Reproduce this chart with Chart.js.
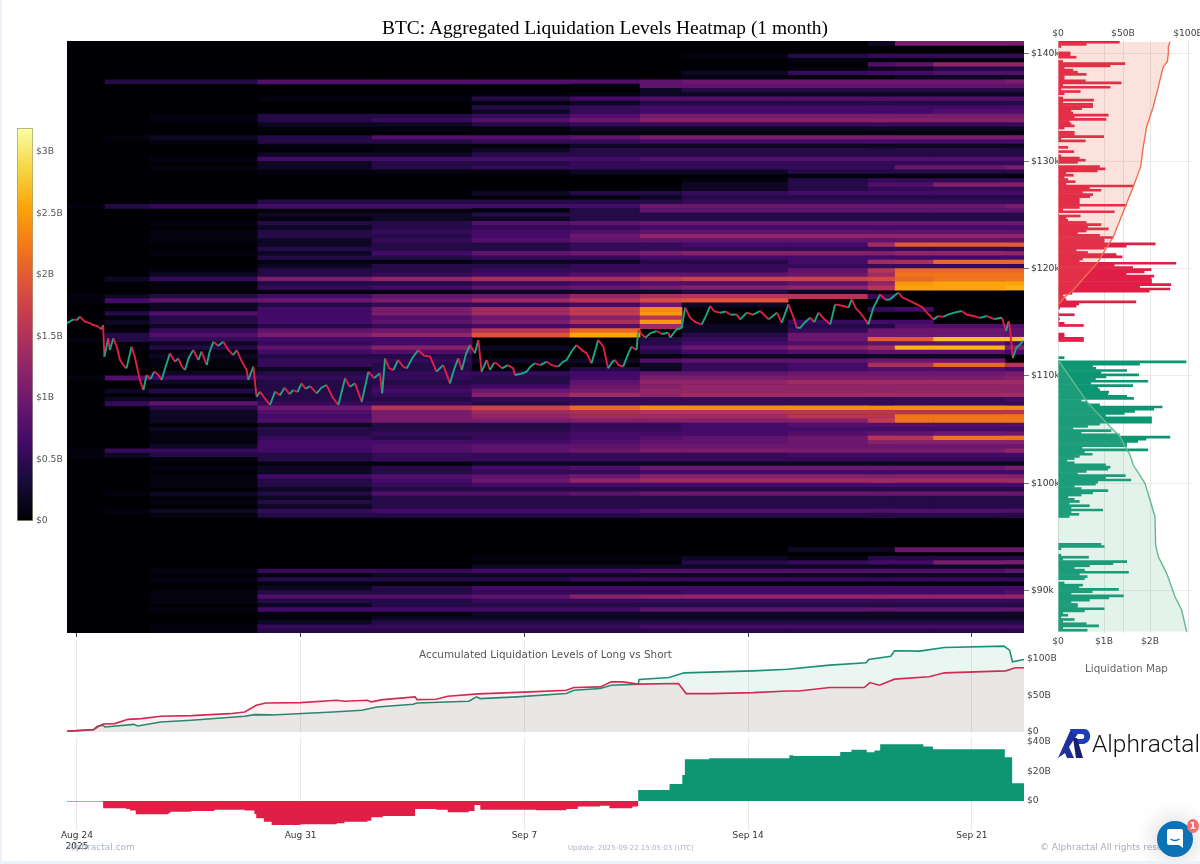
<!DOCTYPE html>
<html><head><meta charset="utf-8">
<script src="https://cdn.jsdelivr.net/npm/chart.js@4"></script>
<style>
html,body{margin:0;padding:0;background:#edf1fb;width:1200px;height:864px;overflow:hidden}
#page{position:absolute;left:2px;top:0;width:1198px;height:861px;background:#fff;overflow:hidden}
canvas{position:absolute;left:-2px;top:0;pointer-events:none}
.t{position:absolute;white-space:nowrap}
</style></head><body><div id="page">
<canvas id="cHeat" width="1200" height="864"></canvas>
<canvas id="cMap" width="1200" height="864"></canvas>
<canvas id="cBar" width="1200" height="864"></canvas>
<canvas id="cAcc" width="1200" height="864"></canvas>
<canvas id="cNet" width="1200" height="864"></canvas>
<div class="t" style="left:264px;top:17px;width:678px;text-align:center;font:19.4px 'Liberation Serif'">BTC: Aggregated Liquidation Levels Heatmap (1 month)</div>
<div class="t" style="left:417px;top:648px;font:10.4px 'DejaVu Sans';color:#555">Accumulated Liquidation Levels of Long vs Short</div>
<div class="t" style="left:1083px;top:662px;font:10.4px 'DejaVu Sans';color:#666">Liquidation Map</div>
<div class="t" style="left:65px;top:842px;font:9px 'DejaVu Sans';color:#aab4c6">Alphractal.com</div>
<div class="t" style="left:566px;top:844px;font:7px 'DejaVu Sans';color:#aab4c6">Update: 2025-09-22 15:05:03 (UTC)</div>
<div class="t" style="left:1038px;top:842px;font:9px 'DejaVu Sans';color:#a5adbb">© Alphractal All rights reserved</div>
<svg class="t" style="left:1054px;top:727px" width="38" height="33" viewBox="0 0 38 33">
<path d="M2 31 L15 2 L25 2 L13 20 L18 31 L11 31 L9 26 Z" fill="#1f2f9e"/>
<path d="M14 2 H28 C36 2 37 16 27 17 H21 L20 12 H26 C29 12 29 7 26 7 H17 Z" fill="#1c3fb8"/>
<path d="M17 11 L21 11 L27 31 L20 31 Z" fill="#16206f"/>
</svg>
<div class="t" style="left:1090px;top:729px;font:300 24.5px Roboto;color:#111">Alphractal</div>
<div class="t" style="left:1155px;top:821px;width:36px;height:36px;border-radius:50%;background:#0b72b5;box-shadow:0 0 26px rgba(0,0,0,.22)">
<svg width="36" height="36" viewBox="0 0 36 36" style="position:absolute;left:0;top:0"><path d="M10 10 Q10 8 12 8 H24 Q26 8 26 10 V27 L22 24 H12 Q10 24 10 22 Z" fill="#fff"/><path d="M13.5 18 Q18 21 22.5 18" stroke="#0b72b5" stroke-width="1.5" fill="none"/></svg></div>
<div class="t" style="left:1185px;top:819px;width:12px;height:14px;border-radius:50%;background:#f36f6f;color:#fff;font:bold 9px 'DejaVu Sans';text-align:center;line-height:14px">1</div>
</div>
<script>
/* ---------- axis values ---------- */
const dateTickDays = [0, 7, 14, 21, 28];
const dateTickLabels = [['Aug 24', '2025'], 'Aug 31', 'Sep 7', 'Sep 14', 'Sep 21'];
const priceTicks = [90000, 100000, 110000, 120000, 130000, 140000];
const priceMin = 86040, priceMax = 141210;
const dayMin = -0.31, dayMax = 29.63;

/* ---------- BTC price (days since Aug 24, USD) ---------- */
const priceDays = [-0.32,-0.2,-0.11,0,0.09,0.25,0.38,0.51,0.64,0.77,0.82,0.86,0.98,1.03,1.14,1.25,1.35,1.45,1.55,1.71,1.81,1.97,2.08,2.18,2.3,2.42,2.55,2.65,2.78,2.91,3.07,3.17,3.28,3.38,3.5,3.64,3.8,3.9,4.06,4.15,4.27,4.42,4.58,4.72,4.89,5,5.15,5.31,5.36,5.52,5.62,5.73,5.88,6.04,6.2,6.35,6.5,6.65,6.77,6.9,7.03,7.15,7.3,7.5,7.65,7.81,8,8.18,8.39,8.54,8.7,8.91,9.12,9.3,9.48,9.55,9.64,9.77,9.9,10.05,10.2,10.32,10.5,10.68,10.85,11.05,11.25,11.46,11.67,11.8,11.93,12.04,12.18,12.3,12.45,12.56,12.66,12.82,12.92,13.05,13.13,13.3,13.48,13.65,13.7,13.9,14.07,14.2,14.33,14.5,14.7,14.85,15.06,15.2,15.32,15.48,15.63,15.8,15.95,16.1,16.31,16.47,16.62,16.75,16.83,16.95,17.09,17.25,17.35,17.51,17.56,17.7,17.78,17.95,18.14,18.3,18.5,18.56,18.75,18.92,19.03,19.18,19.35,19.55,19.68,19.81,19.95,20.12,20.3,20.45,20.64,20.75,20.96,21.15,21.37,21.5,21.64,21.9,22.05,22.26,22.4,22.52,22.63,22.78,22.94,23.07,23.2,23.38,23.57,23.72,23.98,24.14,24.24,24.37,24.5,24.63,24.76,24.92,25.13,25.3,25.44,25.58,25.7,25.83,25.96,26.12,26.28,26.45,26.59,26.8,26.95,27.1,27.27,27.45,27.68,27.85,28.05,28.25,28.47,28.7,28.94,29.07,29.15,29.19,29.28,29.4,29.5,29.6];
const priceValues = [114898,115100,115271,115200,115519,115053,114950,114743,114650,114339,114743,111791,113500,112412,113500,112700,111480,111014,110703,112723,111791,109616,108684,110082,109700,110400,110082,109616,110900,112101,111325,111635,110900,110548,111700,112412,111480,112257,111014,112200,113189,112800,113189,112500,111946,112412,111400,110548,109616,110859,108063,108529,107900,107286,108529,108200,108900,108300,108684,108500,109305,108800,109050,108373,108900,109150,108000,107286,109771,108995,109305,107596,110393,109800,110238,108373,111635,110700,110548,111480,110900,110704,111700,112412,111900,111791,110393,111014,109305,110600,111636,110548,112100,112878,112102,113345,110393,111480,110548,111200,111170,110700,111000,110704,110082,110200,110393,110900,111170,111000,111325,111000,110859,111300,111480,112300,112878,112400,112102,111170,113345,112723,110704,111300,111481,111000,110859,112100,112723,112412,114277,113800,113560,114000,114181,113900,114026,113560,114300,114492,116356,115423,115000,114802,115600,116511,116000,115890,116000,115700,115735,115268,115890,115700,116045,115700,115268,115890,114957,116667,115600,114492,114492,115000,115423,115000,115890,115300,114802,116667,116511,116356,117133,116300,115890,115400,114802,116356,117599,117100,117133,117500,117754,117300,117133,116900,116667,116400,115890,115268,115579,115500,115735,115900,116045,115700,115579,115400,115579,115300,115423,114181,115112,114460,111665,112692,112900,113300];

/* ---------- heatmap: time edges (days), rows from the top, values in tenths of $1B ---------- */
const heatEdges = [-0.31,0.88,2.28,5.66,9.23,12.36,15.43,17.62,18.93,22.25,24.75,25.6,26.8,29.04,29.63];
const heatTopPrice = 141000, heatPriceStep = 400;
const heatValues = [
[0,0,0,0,0,0,0,0,0,0,2,9,9,9],
[],
[],
[0,0,0,0,0,0,0,0,1,3,4,4,4,4],
[0,0,0,0,0,0,0,0,0,1,1,1,1,1],
[0,0,0,0,0,0,0,0,0,0,6,7,11,11],
[0,0,0,0,0,0,0,0,0,1,2,2,3,3],
[0,0,0,0,0,0,0,0,2,4,5,5,6,6],
[0,0,0,0,0,0,0,0,1,1,1,2,2,2],
[0,3,3,6,6,6,6,7,8,8,8,8,8,9],
[0,0,0,0,0,0,1,7,7,7,7,7,7,7],
[0,0,0,0,0,0,0,2,3,3,3,3,3,3],
[0,0,0,0,0,1,1,2,2,2,2,2,2,2],
[0,0,0,1,1,3,5,6,6,6,6,6,6,6],
[0,0,0,0,0,1,2,3,3,3,3,3,3,3],
[0,0,0,0,0,3,4,5,5,5,5,5,5,5],
[0,0,0,0,0,2,4,5,5,5,5,5,6,6],
[0,0,1,3,3,4,6,9,9,9,9,9,9,9],
[0,0,1,3,4,6,8,10,10,10,10,10,10,10],
[0,0,0,2,2,3,4,4,4,4,4,4,4,4],
[0,0,0,1,1,1,2,2,2,2,2,2,2,2],
[0,0,0,0,0,1,1,1,1,1,1,1,1,1],
[0,1,2,3,6,6,7,9,9,9,9,9,9,9],
[0,0,1,3,3,4,4,5,5,5,5,5,5,5],
[0,0,0,1,1,1,2,2,2,2,2,2,2,2],
[0,0,0,0,1,2,3,3,3,3,3,3,3,3],
[0,0,0,2,2,3,3,3,3,3,3,3,3,3],
[0,0,1,5,5,5,5,6,6,6,6,6,6,6],
[0,0,0,2,3,3,4,4,4,4,4,4,4,4],
[0,0,1,2,3,4,4,4,4,4,4,8,8,9],
[0,0,0,1,1,1,2,2,2,3,3,3,3,3],
[0,0,0,0,0,0,0,0,0,1,1,1,1,1],
[0,0,0,0,0,0,0,0,1,3,4,4,4,4],
[0,0,0,0,0,0,0,0,2,3,6,6,10,10],
[0,0,0,0,0,0,0,1,2,3,4,4,4,4],
[0,0,0,0,0,2,3,3,4,5,5,5,5,5],
[0,0,0,0,0,0,1,2,3,3,3,3,3,3],
[0,0,1,3,3,3,3,3,4,4,4,4,4,4],
[1,3,4,5,5,5,5,8,8,8,8,8,8,9],
[0,0,0,0,0,1,3,7,7,7,7,7,7,7],
[0,0,0,2,2,3,3,3,3,3,3,3,3,3],
[0,0,0,1,2,2,3,3,3,3,3,3,3,3],
[0,0,1,3,3,6,7,8,8,8,8,8,8,8],
[0,0,0,2,3,4,4,5,5,5,5,5,5,5],
[0,0,1,3,4,5,6,7,7,7,7,7,7,7],
[0,0,1,3,3,5,8,11,11,11,11,11,11,11],
[0,0,1,2,4,6,7,7,7,7,7,7,7,7],
[0,0,0,2,3,3,4,4,5,5,12,19,19,19],
[0,0,0,3,3,3,4,4,4,4,4,4,4,4],
[0,0,1,2,5,7,8,9,10,10,10,11,11,11],
[0,0,0,3,3,4,4,5,5,5,5,5,5,5],
[0,0,0,1,1,2,2,3,3,5,12,13,20,20],
[0,0,0,2,3,3,4,4,4,4,4,4,4,4],
[0,0,1,3,3,4,4,4,4,7,14,20,20,20],
[0,0,2,3,4,5,6,7,7,8,12,21,21,21],
[0,2,4,9,11,13,13,15,16,16,17,20,21,21],
[0,0,1,3,3,4,5,6,6,7,11,24,25,25],
[0,0,1,4,5,7,8,9,10,11,14,25,25,26],
[0,0,0,1,1,2,2,2,3,2,0,0,0,0],
[1,2,3,5,7,8,11,13,14,14,4,0,0,0],
[1,5,7,8,9,12,14,17,18,0,0,0,0,0],
[0,0,2,3,4,4,5,8,2,0,0,0,0,0],
[0,1,2,5,9,12,15,23,0,0,4,5,0,0],
[0,3,6,5,9,12,15,24,0,0,0,0,0,0],
[0,1,3,5,6,8,10,14,0,0,0,0,0,0],
[0,2,3,5,7,9,13,24,1,4,5,5,0,0],
[0,0,2,3,4,5,6,12,2,3,3,6,6,6],
[0,1,4,7,8,14,20,0,2,4,8,8,8,7],
[0,3,6,9,11,18,25,0,3,8,8,8,8,7],
[1,3,4,5,5,0,0,3,4,8,19,19,27,27],
[0,0,2,4,5,0,0,3,5,6,7,7,7,5],
[0,1,3,7,10,2,0,5,8,10,12,26,26,10],
[0,0,1,5,6,0,0,3,5,6,7,7,7,5],
[0,0,2,3,3,0,0,1,2,2,2,2,2,0],
[0,0,1,4,4,2,2,6,7,7,8,8,8,0],
[0,0,1,4,3,0,0,2,4,5,13,13,20,14],
[0,0,0,2,3,1,3,2,4,5,6,6,6,5],
[0,0,2,3,4,4,5,7,7,8,8,8,8,9],
[1,6,5,4,4,3,5,9,9,9,9,9,9,10],
[0,0,2,3,3,3,7,11,11,12,12,12,12,12],
[0,0,1,3,4,5,8,10,11,11,11,11,11,11],
[0,2,3,3,5,8,9,11,11,11,11,11,11,11],
[0,0,0,3,4,10,12,11,12,12,12,12,12,12],
[0,2,2,3,3,4,4,4,4,4,4,4,4,5],
[0,4,7,4,4,3,4,4,4,4,4,4,4,4],
[0,0,3,8,14,16,20,23,23,23,23,23,23,23],
[0,0,2,6,9,12,13,14,14,14,14,14,14,14],
[0,0,2,5,9,11,12,12,12,14,14,21,21,21],
[0,0,2,6,9,9,10,10,10,10,15,21,21,21],
[0,0,0,2,3,3,4,4,5,6,6,6,6,6],
[0,0,2,3,3,3,4,4,5,5,5,5,5,5],
[0,0,1,3,4,4,5,5,5,6,7,7,8,8],
[0,0,1,4,3,4,5,6,7,8,14,14,21,21],
[0,0,1,5,5,5,6,7,7,8,10,10,10,10],
[0,0,2,5,6,7,7,8,8,8,8,8,8,8],
[1,4,4,5,6,7,8,9,9,9,9,9,9,11],
[1,2,3,3,4,4,4,4,4,5,5,5,5,5],
[0,0,1,3,4,4,4,4,4,4,4,4,4,4],
[0,0,0,1,1,2,2,2,2,2,2,2,2,2],
[0,0,1,2,3,5,6,8,8,8,8,8,8,9],
[0,0,0,2,3,4,4,5,5,5,5,5,5,5],
[0,0,1,5,6,7,8,10,10,10,10,10,10,10],
[0,0,1,3,5,8,11,12,12,12,12,12,12,12],
[0,0,1,3,4,5,5,5,5,5,5,5,5,5],
[0,0,0,2,3,3,3,3,3,3,3,3,3,3],
[0,1,2,3,6,6,7,8,8,8,8,8,8,8],
[0,0,0,2,3,3,3,3,3,3,3,3,3,3],
[0,0,1,3,3,3,3,3,3,3,3,3,3,3],
[0,0,0,2,3,3,3,3,3,3,3,3,3,3],
[0,1,2,4,5,5,5,6,6,6,6,6,6,6],
[0,0,1,3,3,3,3,3,3,3,3,3,3,3],
[],
[],
[],
[],
[],
[],
[],
[0,0,0,0,0,0,0,0,0,2,2,8,8,8],
[],
[0,0,0,0,0,1,1,1,2,1,3,3,3,3],
[0,0,0,0,0,0,0,0,3,4,5,5,9,9],
[0,0,0,0,0,2,2,2,2,2,2,2,2,2],
[0,0,1,4,4,5,5,6,6,6,6,6,6,7],
[0,0,0,1,2,2,2,2,2,2,2,2,2,2],
[0,0,1,3,3,3,4,4,4,4,4,4,4,4],
[0,0,0,1,1,1,1,1,1,1,1,1,1,1],
[0,0,0,2,3,5,5,5,5,5,5,5,5,5],
[0,0,1,3,3,4,4,4,5,5,5,5,5,6],
[0,0,1,6,6,7,10,11,11,11,11,11,11,11],
[0,0,1,3,3,4,4,4,4,4,4,4,4,4],
[0,0,0,2,3,3,3,3,3,3,3,3,3,3],
[0,0,1,5,5,5,5,7,7,7,7,7,7,7],
[0,0,0,1,1,2,2,2,2,2,2,2,2,2],
[0,0,0,1,2,2,2,2,2,2,2,2,2,2],
[0,0,0,2,3,3,3,3,3,3,3,3,3,3],
[0,0,1,4,4,4,4,5,5,5,5,5,5,5],
[0,0,1,3,3,3,3,3,3,3,3,3,3,3]
];

/* ---------- liquidation map: $200 rows from the top, $B ---------- */
const mapTopPrice = 141100, mapPriceStep = 200;
const shortBars = [1.34,.62,.07,0,0,.27,.27,.40,0,.11,1.46,1.14,.14,.33,.43,.62,.14,.14,.60,1.38,.11,1.14,.07,.49,.14,.02,.11,.78,.11,.76,.76,.52,.29,.33,1.10,.36,1.05,.25,.29,.36,.14,.02,.36,.36,1.00,.07,.60,0,0,.22,0,.35,0,.07,.47,.60,.43,.02,.91,1.03,.86,.18,.34,.14,.22,.38,.18,1.63,.69,.94,.54,.76,.70,.47,.47,.47,1.49,.47,.11,1.23,.02,.49,.18,.22,.62,.94,.65,1.10,.62,.43,.91,1.20,1.01,1.01,2.12,1.49,1.01,.40,.65,1.27,1.40,.54,.47,2.57,1.23,1.63,2.03,1.88,1.49,2.09,2.03,2.04,2.04,2.46,1.78,2.44,1.99,.31,.11,.14,.18,1.70,.46,.40,.04,0,.02,.36,.02,.04,.02,.14,.56,0,0,0,.14,.14,.56,.56];
const longBars = [0,0,0,0,0,0,0,.14,0,2.79,1.78,.76,.83,1.5,.94,1.76,1.05,.82,1.96,.72,1.63,.87,.91,1.11,1.09,1.5,1.65,.51,.65,.91,2.27,2.09,1.67,1.45,1.04,2.04,2.04,2.04,.91,.65,.33,1.16,.51,1.34,2.44,1.92,1.74,1.5,1.5,.53,1.96,.58,.75,.47,.36,.2,.36,1.04,1.14,1.09,.62,.43,1.47,1.04,1.59,.87,.82,.36,.51,1.09,.76,.51,.22,.36,.47,.25,.69,.29,.98,.29,.46,.25,0,0,0,0,0,0,0,0,0,0,0,0,.94,1.01,.07,0,0,.07,.67,.11,1.5,1.2,.69,.36,.58,1.54,.47,.64,.58,0,.14,.54,.46,1.32,.75,.29,1.43,1.11,.69,.29,.43,.43,1.01,.58,.11,.22,.07,.36,.11,.62,.89,.11,.64];
const shortCumPrice = [116600,117380,118002,120643,121730,122973,124527,126080,127634,129498,131363,133227,135091,136955,138819,139285,140062,140683,141150];
const shortCumValue = [0,5.4,11.8,31,36.2,42.6,47.7,52.8,57.9,63.6,65.6,68.2,73.3,77.2,81,84.1,84.9,84.9,86.2];
const longCumPrice = [111481,107442,105111,104335,102626,101694,99985,98431,96878,94237,93149,91596,89421,88178,86159];
const longCumValue = [0,23.3,41.3,47.7,55.4,57.9,66.9,70.8,74.6,75.1,77.2,83.6,90,95.1,99];

/* ---------- accumulated levels ($B) ---------- */
const accShortDays = [-0.35,0.52,0.64,0.82,1.18,1.6,2.02,2.62,3.58,4.78,5.25,5.61,5.91,6.99,8.13,8.37,9.09,9.21,9.57,10.58,10.64,11.24,11.6,12.56,14.36,15.31,15.55,16.37,16.72,17.08,17.56,18.82,19.06,19.84,21.15,22.23,22.59,23.55,24.63,24.81,25.11,25.58,26.66,27.14,29.06,29.36,29.63];
const accShortValues = [0.9,3.2,6.8,10.9,11.4,17.2,18.2,21.3,22.2,24.9,27.2,36.3,39.5,39.9,43.1,41.8,43.1,40.9,44,47.7,44,44.5,48.6,51.8,54.9,56.8,60.4,61.3,68.1,68.1,65,65.8,52.2,52.2,53.5,55.8,55.8,60.4,60.4,67.2,63.6,71.8,75,80.4,83.1,87.2,87.2];
const accLongDays = [-0.35,0.52,0.64,0.82,0.88,1.78,1.9,2.62,3.58,5.25,5.55,6.09,8.01,8.91,9.39,10.52,10.64,12.26,12.5,12.62,13.76,15.31,15.55,16.37,16.72,17.56,17.59,18.52,19.0,21.15,22.23,23.55,24.69,24.77,25.46,25.58,26.36,27.14,29.0,29.18,29.27,29.63];
const accLongValues = [0.9,3.2,7.7,9.1,6.8,10.4,8.2,13.6,15.9,21.3,23.6,23.2,27.2,29.5,34,37.7,39.5,41.8,47.7,45.4,47.7,52.2,56.8,59,63.6,65,71.4,74.1,80.4,83.1,85.3,90.8,94,98.5,103,110.3,109.9,114.9,116.7,111.2,95.3,98.5];

/* ---------- long minus short ($B) ---------- */
const netDays = [-0.31,0.8,0.82,1.54,1.66,1.84,2.86,2.92,3.58,4.3,5.25,5.55,5.61,5.85,6.09,6.99,8.13,8.37,9.09,9.21,9.57,10.58,11.24,11.6,12.26,12.44,12.62,14.36,15.31,15.67,16.37,16.66,17.38,17.56,18.54,18.94,19.02,19.78,22.29,22.41,23.88,24.23,24.71,24.95,25.13,26.48,26.78,29.03,29.26,29.63];
const netValues = [-0.4,-0.5,-5,-5.4,-6.5,-9,-8.3,-7.2,-6.8,-6,-6.5,-8.8,-11.7,-14,-16.2,-15.8,-15,-14,-13.3,-11,-10.1,-5.4,-6,-7.7,-6.8,-2.7,-6,-6.3,-5.4,-3.8,-3.2,-5,-3.8,7.4,11.5,17.6,28.2,28.8,30.9,30.4,33,34.5,32.9,34,38.3,36.7,34.9,29.5,11.9,11.9];

/* ---------- colour bar ticks ---------- */
const colorTicks = [0, 0.5, 1, 1.5, 2, 2.5, 3];
const colorMax = 3.195;

/* ---------- style helpers ---------- */
const infernoStops = ['#000004','#160b39','#420a68','#6a176e','#932667','#bc3754','#dd513a','#f37819','#fca50a','#f6d746','#fcffa4'];
const hex = h => [1,3,5].map(i => parseInt(h.slice(i, i+2), 16));
function inferno(f){
  const t = Math.max(0, Math.min(1, f)) * 10, i = Math.min(9, Math.floor(t));
  const a = hex(infernoStops[i]), b = hex(infernoStops[i+1]);
  return 'rgb(' + a.map((v,k) => Math.round(v + (b[k]-v)*(t-i))).join(',') + ')';
}
/* colour calibration of the hand-read heat levels */
const heatColor = v => inferno(v <= 1 ? 0.02 : v === 2 ? 0.06 : Math.pow(v/27, 0.85)*0.85);
const RED = '#e01f46', GREEN = '#0e9674';
const FONT = {family:"'DejaVu Sans'", size:9.2};
const toXY = (xs, ys) => xs.map((x,i) => ({x, y:ys[i]}));
const fix = (w, h) => s => {
  if (w !== null) s.width = w;
  if (h !== null) s.height = h;
  s.paddingTop = s.paddingBottom = s.paddingLeft = s.paddingRight = 0;
};
const setTicks = arr => s => { s.ticks = arr.map(value => ({value})); };
const billions = v => v === 0 ? '$0' : '$' + v + 'B';
const base = {responsive:false, animation:false, devicePixelRatio:1, plugins:{legend:{display:false}, tooltip:{enabled:false}}, events:[]};
const dateLabel = v => dateTickLabels[dateTickDays.indexOf(v)];
function dateAxis(extra){
  return Object.assign({type:'linear', min:dayMin, max:dayMax, offset:false, afterBuildTicks:setTicks(dateTickDays), border:{display:false}}, extra);
}

/* ---------- heatmap + price ---------- */
const heatPrices = heatValues.map((_, i) => heatTopPrice - i*heatPriceStep);
const heatSegments = [];
heatValues.forEach((row, r) => {
  for (let c = 0; c < heatEdges.length-1; c++) {
    const v = row[c] || 0;
    if (v > 0) heatSegments.push({x:[heatEdges[c], heatEdges[c+1]], y:heatPrices[r], v});
  }
});
new Chart(document.getElementById('cHeat'), {
  data:{datasets:[
    {type:'line', order:1, data:toXY(priceDays, priceValues), pointRadius:0, borderWidth:1.9, tension:0, borderColor:GREEN,
     segment:{borderColor:c => c.p1.parsed.y >= c.p0.parsed.y ? '#1fa583' : RED}},
    {type:'bar', order:2, indexAxis:'y', grouped:false, data:heatSegments, barPercentage:1, categoryPercentage:1, borderWidth:0,
     backgroundColor:c => heatColor(c.raw.v)}
  ]},
  options:Object.assign({}, base, {
    layout:{padding:{left:67, top:41, right:130, bottom:226}},
    scales:{
      x:dateAxis({position:'bottom', afterFit:fix(null,5), ticks:{display:false}, grid:{drawOnChartArea:false, tickLength:4, color:'#444'}}),
      y:{type:'linear', position:'right', min:priceMin, max:priceMax, offset:false, afterBuildTicks:setTicks(priceTicks), afterFit:fix(46,null), border:{display:false},
         grid:{offset:false, drawOnChartArea:false, tickLength:5, color:'#777'},
         ticks:{font:FONT, color:'#333', padding:2, autoSkip:false, callback:v => '$' + v/1000 + 'k'}}
    }
  }),
  plugins:[{id:'blackBack', beforeDatasetsDraw(ch){const a=ch.chartArea; ch.ctx.fillStyle='#000004'; ch.ctx.fillRect(a.left,a.top,a.right-a.left,a.bottom-a.top);}}]
});

/* ---------- liquidation map ---------- */
const mapRow = i => mapTopPrice - i*mapPriceStep;
new Chart(document.getElementById('cMap'), {
  data:{datasets:[
    {type:'line', order:1, indexAxis:'y', xAxisID:'xCum', yAxisID:'y', data:toXY(shortCumValue, shortCumPrice), pointRadius:0, borderWidth:1.4, borderColor:'#ee6f52', backgroundColor:'rgba(238,111,82,.2)', fill:{value:0}},
    {type:'line', order:1, indexAxis:'y', xAxisID:'xCum', yAxisID:'y', data:toXY(longCumValue, longCumPrice), pointRadius:0, borderWidth:1.4, borderColor:'#63b98f', backgroundColor:'rgba(99,185,143,.18)', fill:{value:0}},
    {type:'bar', order:2, indexAxis:'y', grouped:false, xAxisID:'xBars', yAxisID:'y', data:shortBars.map((x,i) => ({x, y:mapRow(i)})), barPercentage:1.25, categoryPercentage:1, borderWidth:0, backgroundColor:RED},
    {type:'bar', order:2, indexAxis:'y', grouped:false, xAxisID:'xBars', yAxisID:'y', data:longBars.map((x,i) => ({x, y:mapRow(i + shortBars.length)})), barPercentage:1.25, categoryPercentage:1, borderWidth:0, backgroundColor:GREEN}
  ]},
  options:Object.assign({}, base, {
    layout:{padding:{left:1058, top:20, right:8, bottom:214}},
    scales:{
      xBars:{type:'linear', position:'bottom', min:0, max:134/46, offset:false, afterBuildTicks:setTicks([0,1,2]), afterFit:fix(null,17), border:{display:false},
             grid:{color:'#e6e6e6', drawTicks:false}, ticks:{font:FONT, color:'#444', padding:3, callback:billions}},
      xCum:{type:'linear', position:'top', min:0, max:134/1.3, offset:false, afterBuildTicks:setTicks([0,50,100]), afterFit:fix(null,21), border:{display:false},
            grid:{color:'#e6e6e6', drawTicks:false}, ticks:{font:FONT, color:'#444', padding:2, callback:billions}},
      y:{type:'linear', position:'left', min:priceMin, max:priceMax, offset:false, afterBuildTicks:setTicks(priceTicks), afterFit:fix(0,null), border:{display:false},
         grid:{offset:false, color:'#ececec', drawTicks:false}, ticks:{display:false}}
    }
  })
});

/* ---------- colour bar ---------- */
new Chart(document.getElementById('cBar'), {
  type:'bar',
  data:{labels:['Liquidation'], datasets:[{data:[[0, colorMax]], barPercentage:1, categoryPercentage:1, borderWidth:1, borderColor:'#a09f80', borderSkipped:false,
    backgroundColor(c){
      const y = c.chart.scales.y;
      const p0 = y ? y.getPixelForValue(0) : NaN, p1 = y ? y.getPixelForValue(colorMax) : NaN;
      if (!isFinite(p0) || !isFinite(p1)) return '#000';
      const g = c.chart.ctx.createLinearGradient(0, p0, 0, p1);
      infernoStops.forEach((s,i) => g.addColorStop(i/10, s));
      return g;
    }}]},
  options:Object.assign({}, base, {
    layout:{padding:{left:17, top:128, right:1127, bottom:343}},
    scales:{
      x:{display:false},
      y:{type:'linear', position:'right', min:0, max:colorMax, afterBuildTicks:setTicks(colorTicks), afterFit:fix(40,null), border:{display:false},
         grid:{display:false, drawTicks:false}, ticks:{font:FONT, color:'#555', padding:3, callback:billions}}
    }
  })
});

/* ---------- accumulated levels ---------- */
new Chart(document.getElementById('cAcc'), {
  data:{datasets:[
    {type:'line', data:toXY(accShortDays, accShortValues), pointRadius:0, borderWidth:1.6, borderColor:'#d22a50', backgroundColor:'rgba(225,29,72,.07)', fill:{value:0}},
    {type:'line', data:toXY(accLongDays, accLongValues), pointRadius:0, borderWidth:1.6, borderColor:'#1d8f73', backgroundColor:'rgba(14,152,115,.09)', fill:{value:0}}
  ]},
  options:Object.assign({}, base, {
    layout:{padding:{left:67, top:640, right:136, bottom:132}},
    scales:{
      x:dateAxis({position:'bottom', afterFit:fix(null,0), ticks:{display:false}, grid:{color:'#e8e8e8', drawTicks:false}}),
      y:{type:'linear', position:'right', min:0, max:125, afterBuildTicks:setTicks([0,50,100]), afterFit:fix(40,null), border:{display:false},
         grid:{display:false, drawTicks:false}, ticks:{font:FONT, color:'#444', padding:3, callback:billions}}
    }
  })
});

/* ---------- long minus short ---------- */
new Chart(document.getElementById('cNet'), {
  data:{datasets:[
    {type:'line', data:toXY(netDays, netValues), pointRadius:0, borderWidth:0, stepped:true, fill:{target:{value:0}, above:'#0e9674', below:RED}}
  ]},
  options:Object.assign({}, base, {
    layout:{padding:{left:67, top:738, right:136, bottom:0}},
    scales:{
      x:dateAxis({position:'bottom', afterFit:fix(null,34), grid:{color:'#e8e8e8', drawTicks:false},
         ticks:{font:{family:"'DejaVu Sans'", size:9}, color:'#333', padding:0, autoSkip:false, maxRotation:0, callback:dateLabel}}),
      y:{type:'linear', position:'right', min:-19.6, max:42.5, afterBuildTicks:setTicks([0,20,40]), afterFit:fix(40,null), border:{display:false},
         grid:{display:false, drawTicks:false}, ticks:{font:FONT, color:'#444', padding:3, callback:billions}}
    }
  })
});
</script></body></html>
